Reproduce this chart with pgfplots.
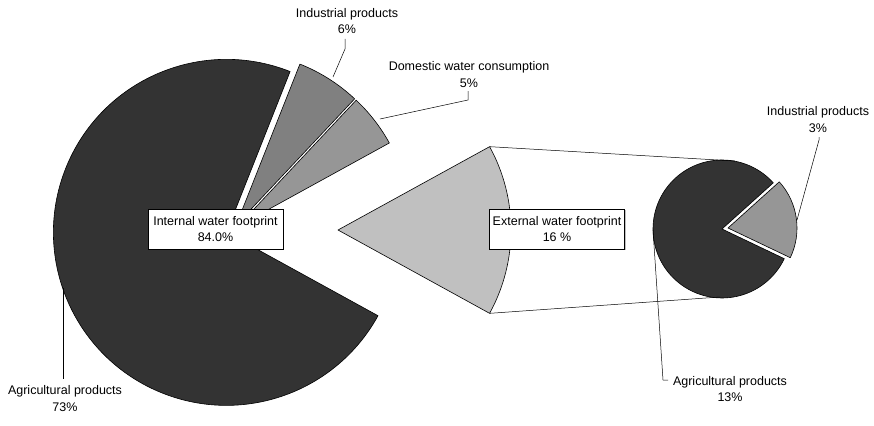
\documentclass[border=0pt]{standalone}
\usepackage{fontspec}
\setmainfont{Liberation Sans}
\usepackage{pgfplots}
\pgfplotsset{compat=1.18}
\usetikzlibrary{shadows}

\definecolor{agri}{HTML}{333333}
\definecolor{indus}{HTML}{808080}
\definecolor{domes}{HTML}{969696}
\definecolor{extern}{HTML}{C0C0C0}

% shares (%)
\def\vAgri{73}\def\vInd{6}\def\vDom{5}\def\vExt{16}
\def\vSAgri{13}\def\vSInd{3}

% cx, cy, start angle, end angle, radius, colour
\newcommand{\slice}[6]{%
  \filldraw[fill=#6, draw=black, line width=0.6pt, line join=round]
    (axis cs:#1,#2) -- ++(#3:#5pt) arc[start angle=#3, end angle=#4, radius=#5pt] -- cycle;}

\tikzset{lbl/.style={align=center, font=\fontsize{12.5}{16.5}\selectfont, inner sep=0pt},
  box/.style={lbl, draw=black, line width=0.5pt, fill=white, minimum width=135pt, minimum height=40pt,
    drop shadow={shadow xshift=1.2pt, shadow yshift=-1.2pt, fill=black!50, opacity=0.5}},
  lead/.style={draw=black, line width=0.5pt}}

\begin{document}
\begin{tikzpicture}
% main pie
\pgfmathsetmacro\cx{233}\pgfmathsetmacro\cy{186}\pgfmathsetmacro\R{173}
\pgfmathsetmacro\aExtS{-\vExt*1.8}\pgfmathsetmacro\aExtE{\vExt*1.8}
\pgfmathsetmacro\aDomE{\aExtE+\vDom*3.6}
\pgfmathsetmacro\aIndE{\aDomE+\vInd*3.6}
\pgfmathsetmacro\aAgrE{\aIndE+\vAgri*3.6}
\pgfmathsetmacro\xExt{\cx+105}
\pgfmathsetmacro\xDom{\cx+6*cos((\aExtE+\aDomE)/2)}\pgfmathsetmacro\yDom{\cy+6*sin((\aExtE+\aDomE)/2)}
\pgfmathsetmacro\xInd{\cx+6*cos((\aDomE+\aIndE)/2)}\pgfmathsetmacro\yInd{\cy+6*sin((\aDomE+\aIndE)/2)}
\pgfmathsetmacro\xAgr{\cx+7*cos((\aIndE+\aAgrE)/2)}\pgfmathsetmacro\yAgr{\cy+7*sin((\aIndE+\aAgrE)/2)}
% secondary pie
\pgfmathsetmacro\sTot{\vSAgri+\vSInd}
\pgfmathsetmacro\bS{-25.5}
\pgfmathsetmacro\bIndE{\bS+\vSInd/\sTot*360}
\pgfmathsetmacro\bAgrE{\bIndE+\vSAgri/\sTot*360}
\begin{axis}[width=874pt, height=416pt, scale only axis, xmin=0, xmax=874, ymin=0, ymax=416,
  hide axis, clip=false]
\path (axis cs:0,0) rectangle (axis cs:874,416);

\slice{\xAgr}{\yAgr}{\aIndE}{\aAgrE}{\R}{agri}
\slice{\xInd}{\yInd}{\aDomE}{\aIndE}{\R}{indus}
\slice{\xDom}{\yDom}{\aExtE}{\aDomE}{\R}{domes}
\slice{\xExt}{\cy}{\aExtS}{\aExtE}{\R}{extern}

\slice{722}{187}{\bIndE}{\bAgrE}{69}{agri}
\slice{728}{188}{\bS}{\bIndE}{69}{domes}

% connectors
\draw[lead] (axis cs:\xExt,\cy) ++(\aExtE:\R pt) -- (axis cs:735,255);
\draw[lead] (axis cs:\xExt,\cy) ++(\aExtS:\R pt) -- (axis cs:720,119);

% leader lines
\draw[lead] (axis cs:345,377) -- (axis cs:345,367) -- (axis cs:333,339);
\draw[lead] (axis cs:468,325) -- (axis cs:468,316) -- (axis cs:380,297);
\draw[lead] (axis cs:63,128) -- (axis cs:63,37);
\draw[lead] (axis cs:819,279) -- (axis cs:819,276) -- (axis cs:797,196);
\draw[lead] (axis cs:653,186) -- (axis cs:663,36) -- (axis cs:668,36);

% labels
\node[lbl] at (axis cs:347,395) {Industrial products\\6\%};
\node[lbl] at (axis cs:469,341.5) {Domestic water consumption\\5\%};
\node[lbl] at (axis cs:65,17.5) {Agricultural products\\73\%};
\node[lbl] at (axis cs:818,296.5) {Industrial products\\3\%};
\node[lbl] at (axis cs:730,27) {Agricultural products\\13\%};

\node[box] at (axis cs:215.5,187) {Internal water footprint\\84.0\%};
\node[box] at (axis cs:557,187) {External water footprint\\16 \%};
\end{axis}
\end{tikzpicture}
\end{document}
